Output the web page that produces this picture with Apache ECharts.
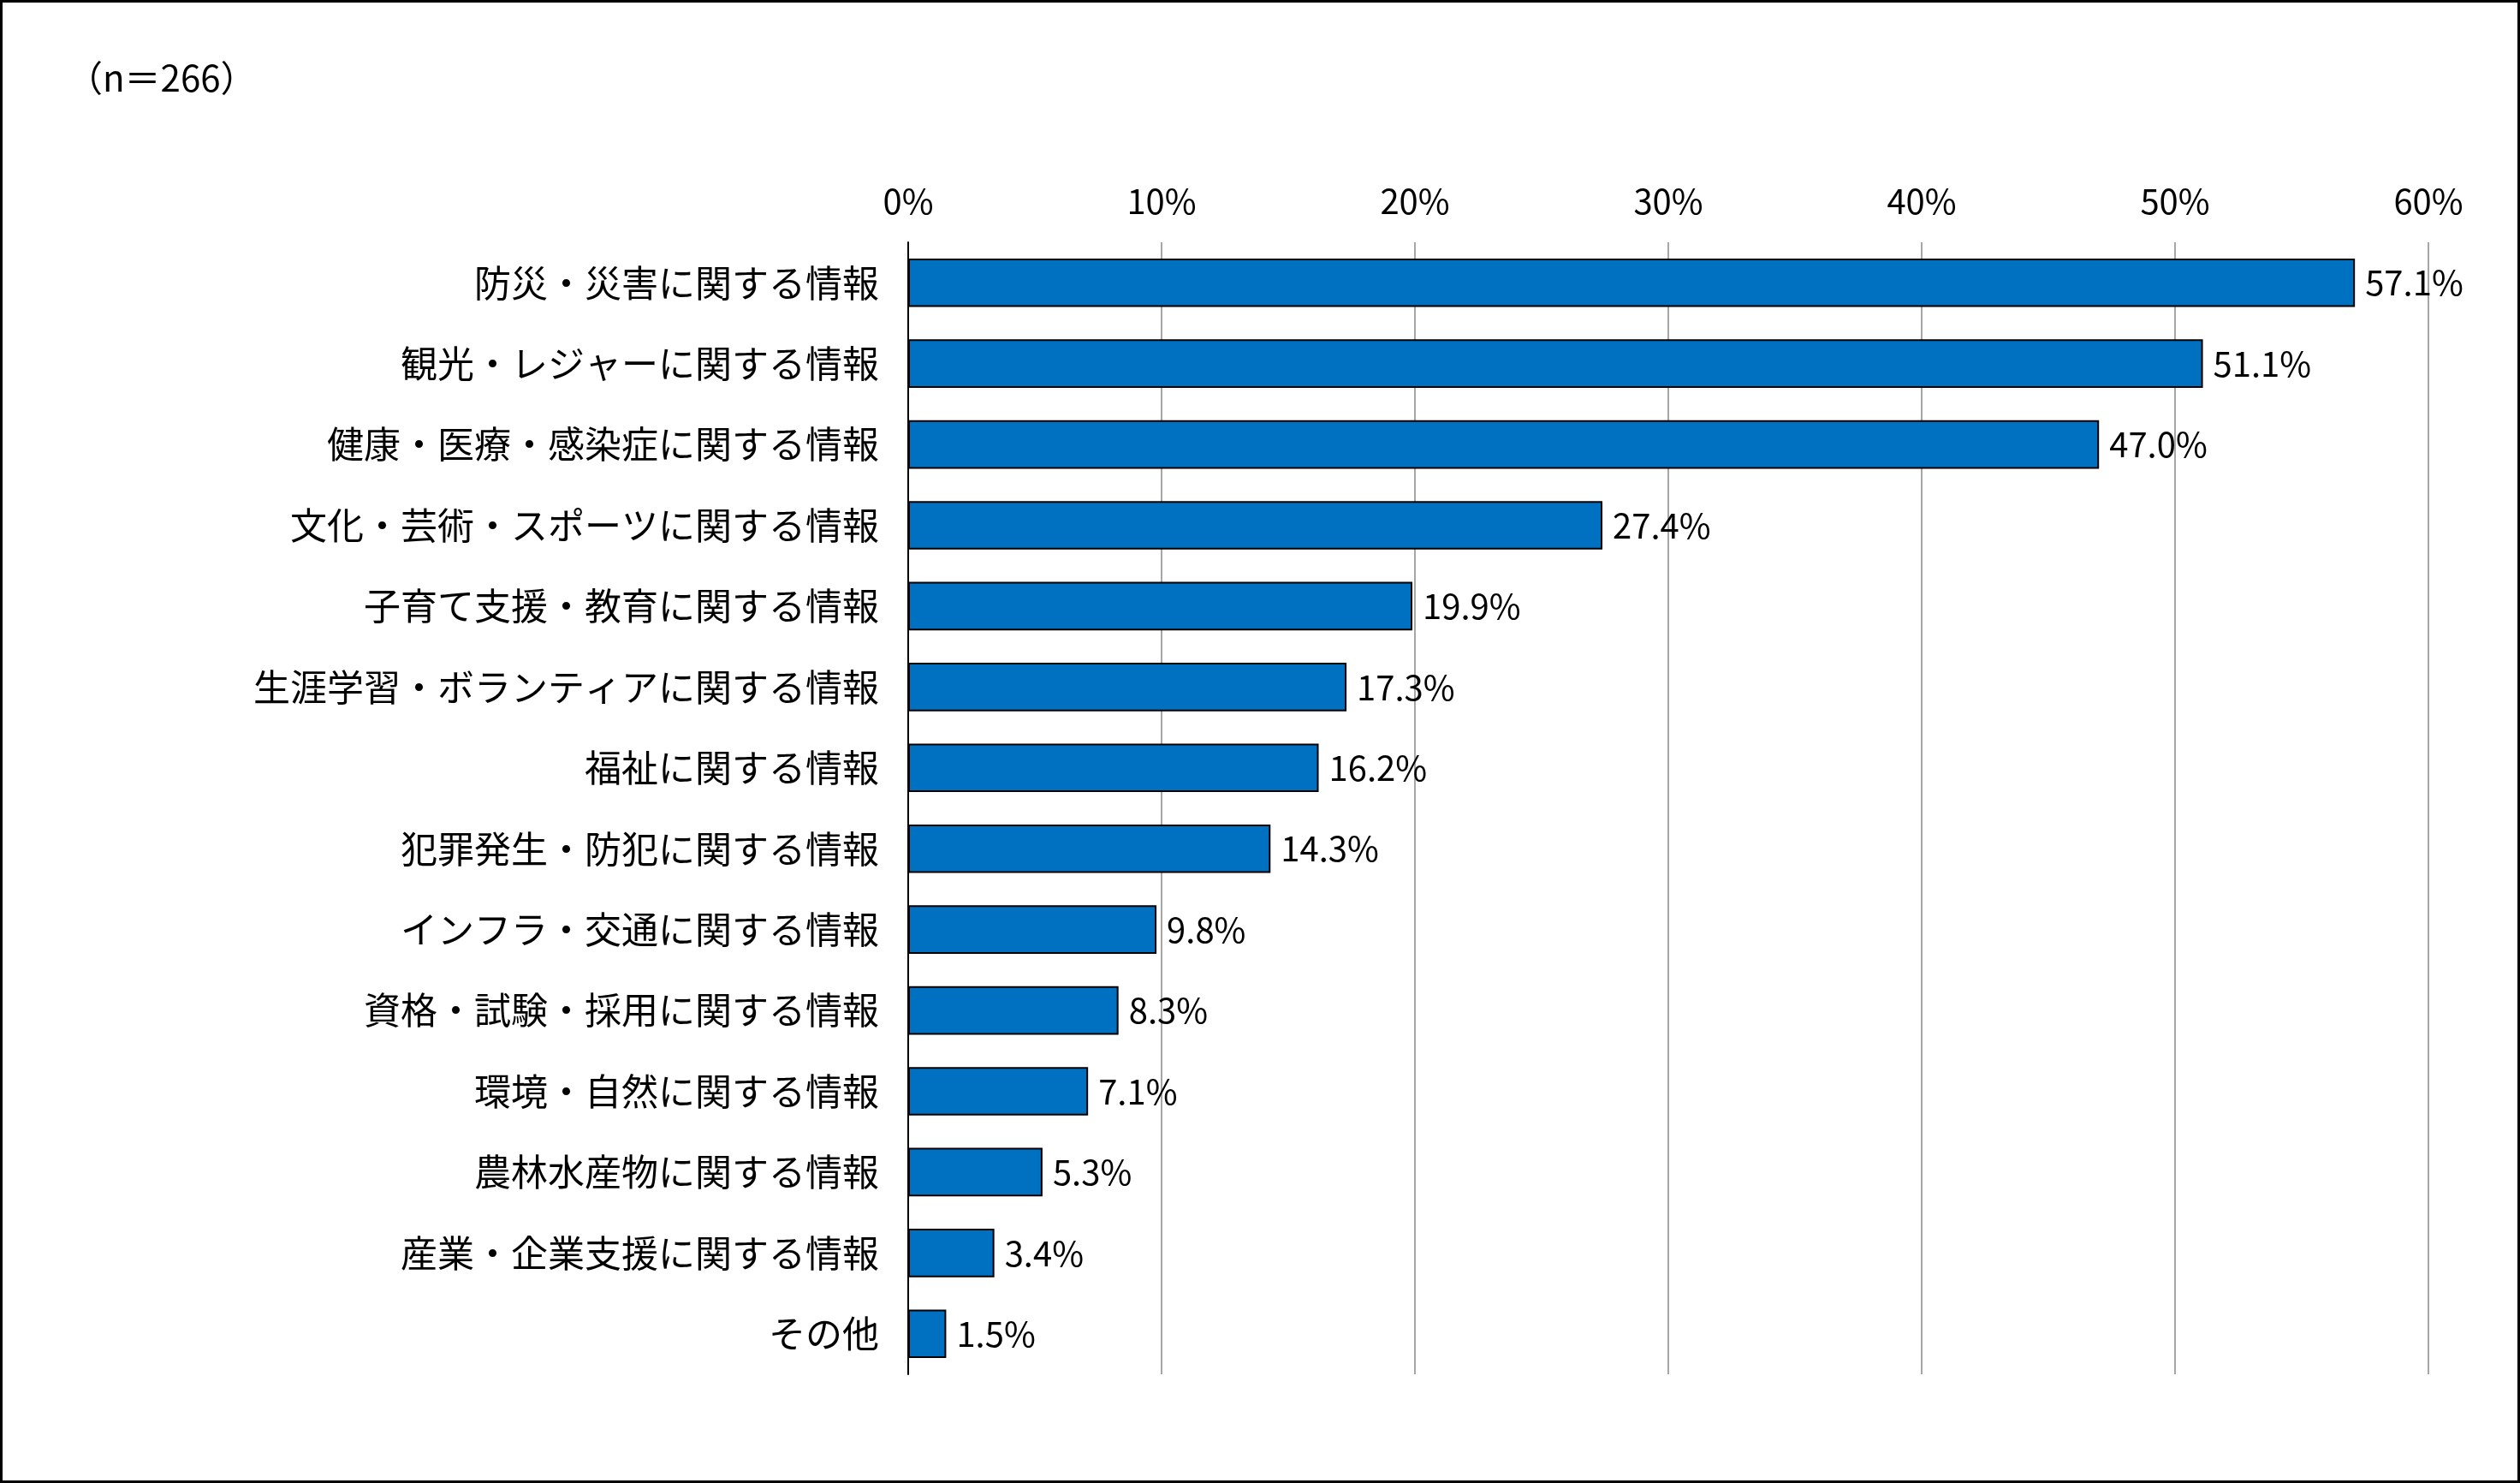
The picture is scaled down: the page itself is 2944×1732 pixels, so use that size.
<!DOCTYPE html>
<html>
<head>
<meta charset="UTF-8">
<script src="https://cdn.jsdelivr.net/npm/echarts@6/dist/echarts.min.js"></script>
<style>
html,body{margin:0;padding:0;background:#fff;}
#chart{width:2944px;height:1732px;box-sizing:border-box;border:3px solid #000;}
</style>
</head>
<body>
<div id="chart"></div>
<script>
var categories = ['防災・災害に関する情報','観光・レジャーに関する情報','健康・医療・感染症に関する情報','文化・芸術・スポーツに関する情報','子育て支援・教育に関する情報','生涯学習・ボランティアに関する情報','福祉に関する情報','犯罪発生・防犯に関する情報','インフラ・交通に関する情報','資格・試験・採用に関する情報','環境・自然に関する情報','農林水産物に関する情報','産業・企業支援に関する情報','その他'];
var values = [57.1,51.1,47.0,27.4,19.9,17.3,16.2,14.3,9.8,8.3,7.1,5.3,3.4,1.5];

var font = '"Noto Sans CJK JP", sans-serif';
var chart = echarts.init(document.getElementById('chart'));
chart.setOption({
  animation: false,
  title: {
    text: '（n＝266）', left: 70, top: 62,
    textStyle: {fontFamily: font, fontSize: 42, fontWeight: 'normal', color: '#000'}
  },
  grid: {left: 1058, right: 104, top: 280, bottom: 124},
  xAxis: {
    type: 'value', position: 'top', min: 0, max: 60, interval: 10,
    axisLabel: {formatter: '{value}%', fontFamily: font, fontSize: 40, color: '#000', margin: 28},
    axisLine: {show: false}, axisTick: {show: false},
    splitLine: {lineStyle: {color: '#a6a6a6', width: 2}}
  },
  yAxis: {
    type: 'category', inverse: true, data: categories,
    axisLabel: {fontFamily: font, fontSize: 43, color: '#000', margin: 34},
    axisLine: {lineStyle: {color: '#000', width: 2}}, axisTick: {show: false}
  },
  series: [{
    type: 'bar', data: values, barCategoryGap: '40%',
    itemStyle: {color: '#0070C0', borderColor: '#000', borderWidth: 2},
    label: {show: true, position: 'right', distance: 12, formatter: function(p){return p.value.toFixed(1)+'%';},
      fontFamily: font, fontSize: 40, color: '#000'}
  }]
});
</script>
</body>
</html>
